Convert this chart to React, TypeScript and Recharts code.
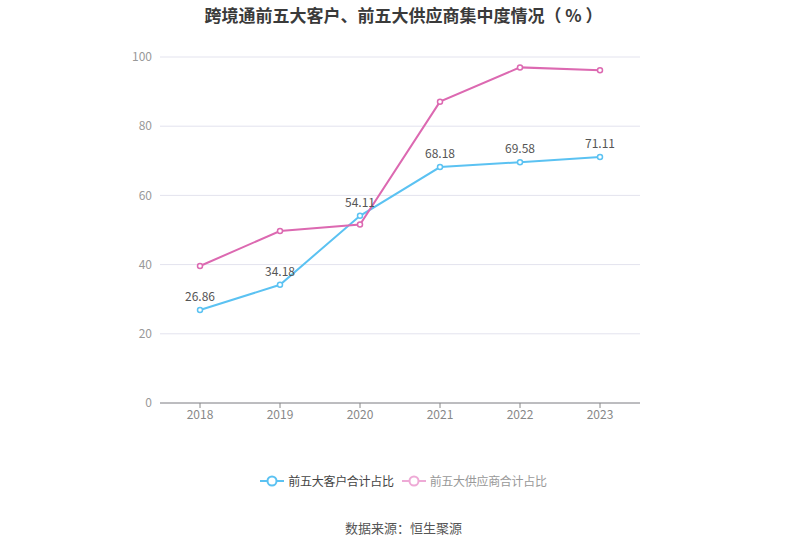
import { LineChart, Line, XAxis, YAxis, CartesianGrid, LabelList } from 'recharts';

const years = ['2018', '2019', '2020', '2021', '2022', '2023'];
const customerShare = [26.86, 34.18, 54.11, 68.18, 69.58, 71.11];
const supplierShare = [39.6, 49.7, 51.6, 87.1, 97.0, 96.2];
const yTicks = [0, 20, 40, 60, 80, 100];

const BLUE = '#5bc2f2';
const PINK = '#dc69b1';
const FONT = '"Noto Sans CJK SC", "Noto Sans", sans-serif';

const data = years.map((year, i) => ({
  year,
  customer: customerShare[i],
  supplier: supplierShare[i],
}));

const LegendBox = () => {
  const items = [
    { name: '前五大客户合计占比', color: BLUE, text: '#444' },
    { name: '前五大供应商合计占比', color: '#eeaad6', text: '#999' },
  ];
  return (
    <div style={{ position: 'absolute', top: 472, width: 807, display: 'flex', justifyContent: 'center', gap: 8, fontSize: 12 }}>
      {items.map((it) => (
        <div key={it.name} style={{ display: 'flex', alignItems: 'center' }}>
          <svg width={24} height={16} style={{ marginRight: 4 }}>
            <line x1={0} y1={8} x2={24} y2={8} stroke={it.color} strokeWidth={2} />
            <circle cx={12} cy={8} r={4.5} fill="#fff" stroke={it.color} strokeWidth={2} />
          </svg>
          <span style={{ color: it.text, letterSpacing: -0.3 }}>{it.name}</span>
        </div>
      ))}
    </div>
  );
};

const App = () => {
  return (
    <div style={{ position: 'absolute', left: 0, top: 0, width: 807, height: 546, background: '#fff', fontFamily: FONT }}>
      <div style={{ position: 'absolute', top: 2, width: 807, textAlign: 'center', fontSize: 17, fontWeight: 'bold', color: '#3a3a3a' }}>
        跨境通前五大客户、前五大供应商集中度情况（ % ）
      </div>
      <LineChart width={807} height={546} data={data} margin={{ top: 57, right: 167, left: 120, bottom: 113 }}>
        <CartesianGrid vertical={false} stroke="#e3e3ee" />
        <XAxis
          dataKey="year"
          stroke="#888"
          tickLine={{ stroke: '#888' }}
          tick={{ fill: '#888', fontSize: 12 }}
          tickSize={5}
          height={30}
          padding={{ left: 40, right: 40 }}
        />
        <YAxis
          domain={[0, 100]}
          ticks={yTicks}
          axisLine={false}
          tickLine={false}
          tick={{ fill: '#999', fontSize: 12 }}
          width={40}
        />
        <Line
          type="linear"
          dataKey="customer"
          stroke={BLUE}
          strokeWidth={2}
          dot={{ r: 2.5, fill: '#fff', stroke: BLUE, strokeWidth: 1.5 }}
          isAnimationActive={false}
        >
          <LabelList dataKey="customer" position="top" offset={9} style={{ fill: '#555', fontSize: 12 }} />
        </Line>
        <Line
          type="linear"
          dataKey="supplier"
          stroke={PINK}
          strokeWidth={2}
          dot={{ r: 2.5, fill: '#fff', stroke: PINK, strokeWidth: 1.5 }}
          isAnimationActive={false}
        />
      </LineChart>
      <LegendBox />
      <div style={{ position: 'absolute', top: 518, width: 807, textAlign: 'center', fontSize: 13, color: '#555' }}>
        数据来源：恒生聚源
      </div>
    </div>
  );
};

export default App;
